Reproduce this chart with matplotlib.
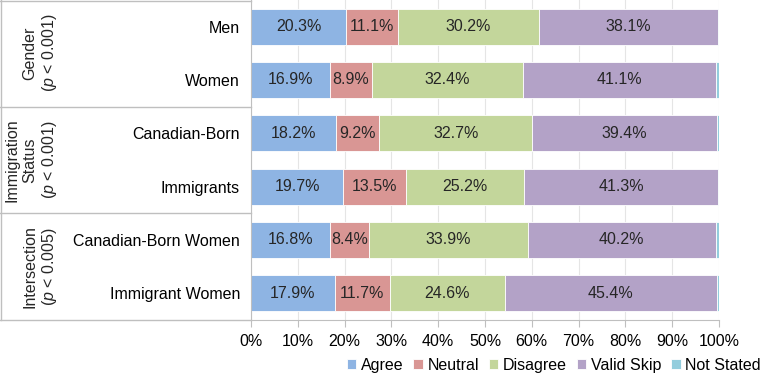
import matplotlib.pyplot as plt
import numpy as np

plt.rcParams['font.family'] = ['Liberation Sans', 'DejaVu Sans']
plt.rcParams['mathtext.fontset'] = 'custom'
plt.rcParams['mathtext.it'] = 'Liberation Sans:italic'
plt.rcParams['mathtext.rm'] = 'Liberation Sans'

categories = ['Men', 'Women', 'Canadian-Born', 'Immigrants',
              'Canadian-Born Women', 'Immigrant Women']
agree = [20.3, 16.9, 18.2, 19.7, 16.8, 17.9]
neutral = [11.1, 8.9, 9.2, 13.5, 8.4, 11.7]
disagree = [30.2, 32.4, 32.7, 25.2, 33.9, 24.6]
valid_skip = [38.1, 41.1, 39.4, 41.3, 40.2, 45.4]
not_stated = [0.3, 0.7, 0.5, 0.3, 0.7, 0.4]
series_names = ['Agree', 'Neutral', 'Disagree', 'Valid Skip', 'Not Stated']
colors = ['#8EB4E3', '#D99694', '#C3D69B', '#B3A2C7', '#93CDDD']
groups = ['Gender\n($p$ < 0.001)', 'Immigration\nStatus\n($p$ < 0.001)',
          'Intersection\n($p$ < 0.005)']

fig = plt.figure(figsize=(7.69, 3.81), dpi=100)
ax = fig.add_axes([251 / 769, 1 - 320 / 381, 468 / 769, 320 / 381])

y = np.arange(len(categories))
left = np.zeros(len(categories))
for name, vals, c in zip(series_names,
                         [agree, neutral, disagree, valid_skip, not_stated], colors):
    vals = np.array(vals)
    ax.barh(y, vals, left=left, height=0.67, color=c, edgecolor='white',
            linewidth=0.6, label=name, zorder=2)
    if name != 'Not Stated':
        for yi, l, v in zip(y, left, vals):
            ax.text(l + v / 2, yi, '%.1f%%' % v, ha='center', va='center',
                    fontsize=11.5, color='#262626', zorder=3)
    left += vals

ax.set_ylim(len(categories) - 0.5, -0.5)
ax.set_xlim(0, 100)
ax.set_xticks(np.arange(0, 101, 10))
ax.set_xticklabels(['%d%%' % t for t in range(0, 101, 10)], fontsize=11.5)
ax.set_yticks(y)
ax.set_yticklabels(categories, fontsize=11.5)
ax.tick_params(axis='y', length=0, pad=8)
ax.tick_params(axis='x', length=5, color='#BFBFBF', pad=5)
ax.grid(axis='x', color='#E5E5E5', linewidth=0.8, zorder=0)
for s in ['top', 'right']:
    ax.spines[s].set_visible(False)
ax.spines['left'].set_color('#BFBFBF')
ax.spines['bottom'].set_color('#BFBFBF')

# table lines on the left
for yy in [0.5, 107, 213, 320]:
    fig.add_artist(plt.Line2D([0, 251 / 769], [1 - yy / 381, 1 - yy / 381],
                              color='#BFBFBF', linewidth=1))
fig.add_artist(plt.Line2D([0.5 / 769, 0.5 / 769], [1 - 320 / 381, 1],
                          color='#BFBFBF', linewidth=1))
for g, yc in zip(groups, [53, 160, 267]):
    fig.text(59 / 769, 1 - yc / 381, g, rotation=90, ha='right', va='center',
             multialignment='center', fontsize=11.5, color='#262626')

fig.legend(loc='lower right', bbox_to_anchor=(1.0, 0.0), ncol=5, frameon=False,
           fontsize=11.5, handlelength=0.6, handleheight=0.6, handletextpad=0.3,
           columnspacing=0.6, borderaxespad=0.1)

fig.savefig('out.png', dpi=100)
